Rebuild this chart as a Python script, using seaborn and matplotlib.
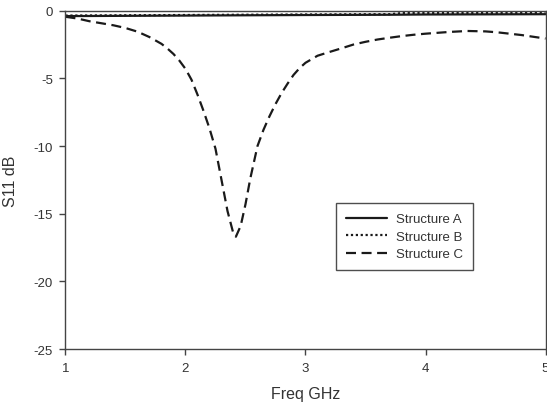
import matplotlib
matplotlib.use("Agg")
import matplotlib.pyplot as plt
import seaborn as sns
import pandas as pd

# Frequency axis (GHz) and return loss (dB) for each structure
freq_a = [1.0, 2.0, 3.0, 3.7, 4.0, 5.0]
s11_a = [-0.40, -0.36, -0.32, -0.30, -0.28, -0.26]

freq_b = [1.0, 2.0, 3.0, 3.7, 3.8, 5.0]
s11_b = [-0.36, -0.32, -0.28, -0.26, -0.18, -0.16]

freq_c = [1.0, 1.1, 1.2, 1.3, 1.4, 1.5, 1.6, 1.7, 1.8, 1.85, 1.9, 1.95,
          2.0, 2.05, 2.1, 2.15, 2.2, 2.25, 2.3, 2.35, 2.4, 2.42,
          2.46, 2.5, 2.54, 2.6, 2.65, 2.7, 2.75, 2.8, 2.85, 2.9, 2.95,
          3.0, 3.1, 3.2, 3.3, 3.4, 3.5, 3.6, 3.7, 3.8, 3.9,
          4.0, 4.2, 4.35, 4.5, 4.6, 4.7, 4.8, 4.9, 5.0]
s11_c = [-0.45, -0.58, -0.78, -0.93, -1.08, -1.28, -1.55, -1.95, -2.45, -2.8, -3.2, -3.7,
         -4.3, -5.1, -6.2, -7.4, -8.7, -10.2, -12.5, -14.8, -16.5, -16.7,
         -15.9, -14.3, -12.4, -10.0, -8.8, -7.8, -6.9, -6.1, -5.4, -4.75, -4.25,
         -3.85, -3.33, -3.05, -2.78, -2.5, -2.3, -2.13, -2.0, -1.88, -1.78,
         -1.7, -1.57, -1.5, -1.53, -1.6, -1.7, -1.8, -1.93, -2.06]

names = ["Structure A", "Structure B", "Structure C"]
x_ticks = [1, 2, 3, 4, 5]
y_ticks = [0, -5, -10, -15, -20, -25]

df = pd.concat([
    pd.DataFrame({"Freq": freq_a, "S11": s11_a, "Structure": names[0]}),
    pd.DataFrame({"Freq": freq_b, "S11": s11_b, "Structure": names[1]}),
    pd.DataFrame({"Freq": freq_c, "S11": s11_c, "Structure": names[2]}),
], ignore_index=True)

sns.set_style("ticks")
plt.rcParams["font.family"] = ["Liberation Sans", "DejaVu Sans"]

fig = plt.figure(figsize=(5.47, 4.10), dpi=100)
ax = fig.add_axes([0.1197, 0.1463, 0.8776, 0.8252])

line_color = "#1a1a1a"
sns.lineplot(
    data=df, x="Freq", y="S11", style="Structure", hue="Structure",
    palette=[line_color] * 3,
    dashes={names[0]: "", names[1]: (1, 1.2), names[2]: (4.5, 2.5)},
    linewidth=1.6, ax=ax, sort=False, estimator=None,
)

ax.set_xlim(1, 5)
ax.set_ylim(-25, 0)
ax.set_xticks(x_ticks)
ax.set_yticks(y_ticks)
ax.set_xticklabels([str(t) for t in x_ticks])
ax.set_yticklabels([str(t) for t in y_ticks])

text_color = "#333333"
spine_color = "#444444"
for side in ["left", "bottom", "top", "right"]:
    ax.spines[side].set_visible(True)
    ax.spines[side].set_color(spine_color)
    ax.spines[side].set_linewidth(1.0)
ax.tick_params(axis="both", direction="out", length=4, width=1.0,
               color=spine_color, labelsize=9.5, labelcolor=text_color, pad=5)

ax.set_xlabel("Freq GHz", fontsize=11.5, color=text_color, labelpad=9)
ax.set_ylabel("S11 dB", fontsize=11.5, color=text_color, labelpad=11)

leg = ax.legend(
    loc="upper left", bbox_to_anchor=(0.5635, 0.4316),
    frameon=True, fancybox=False, edgecolor="#222222",
    fontsize=9.5, handlelength=3.1, labelspacing=0.4,
    borderpad=0.75, handletextpad=0.7, borderaxespad=0,
)
leg.get_frame().set_linewidth(1.0)
for t in leg.get_texts():
    t.set_color(text_color)

fig.savefig("out.png", dpi=100)
